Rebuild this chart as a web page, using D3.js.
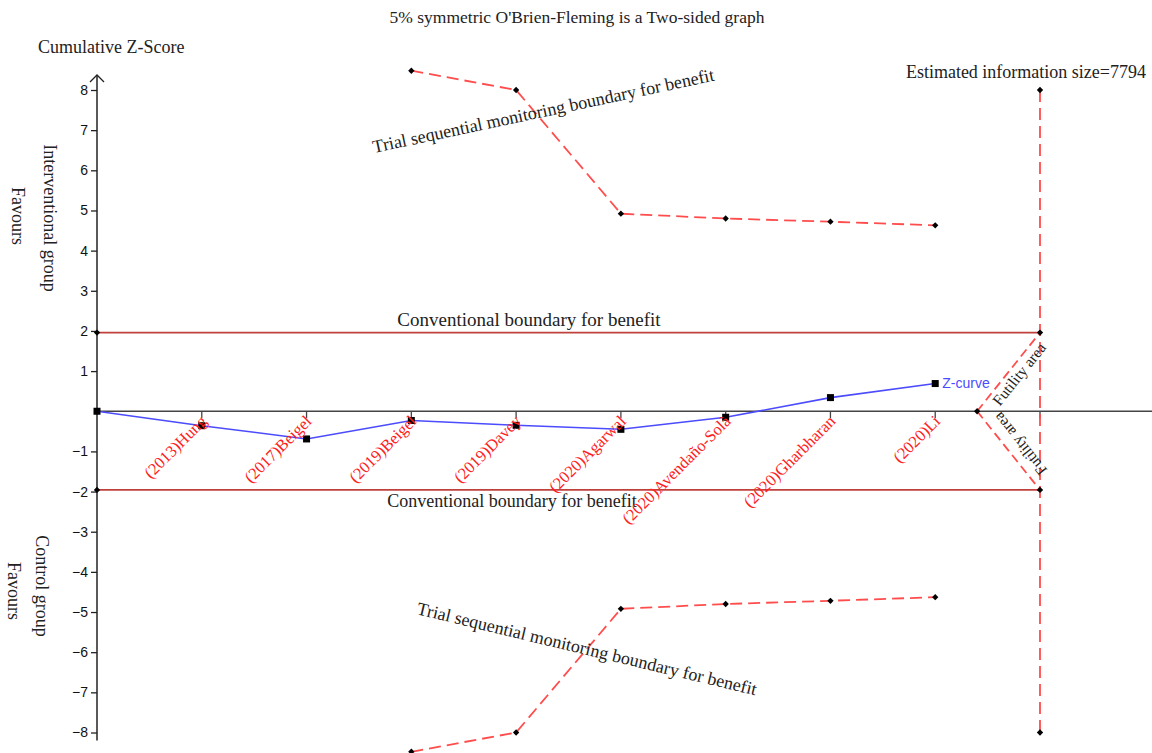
<!DOCTYPE html>
<html>
<head>
<meta charset="utf-8">
<script src="https://cdn.jsdelivr.net/npm/d3@7/dist/d3.min.js"></script>
<style>
  html, body { margin: 0; padding: 0; background: #fff; }
  svg { display: block; }
  .serif { font-family: "Liberation Serif", "Times New Roman", serif; fill: #222; }
</style>
</head>
<body>
<svg id="chart" width="1152" height="753"></svg>
<script>
// Trials in cumulative order (x positions 1..8, 0 is the origin)
const studies = ["(2013)Hung", "(2017)Beigel", "(2019)Beigel", "(2019)Davey",
  "(2020)Agarwal", "(2020)Avendaño-Solà", "(2020)Gharbharan", "(2020)Li"];
const studyPos = [1, 2, 3, 4, 5, 6, 7, 8];

// Cumulative Z-curve, starting at the origin
const zPos = [0, 1, 2, 3, 4, 5, 6, 7, 8];
const zValues = [0, -0.36, -0.69, -0.23, -0.35, -0.45, -0.15, 0.34, 0.69];

// Trial sequential monitoring boundary (O'Brien-Fleming, symmetric)
const tsmbPos = [3, 4, 5, 6, 7, 8];
const tsmbValues = [8.48, 8.0, 4.92, 4.80, 4.72, 4.63];

// Conventional boundary, information size and futility wedge
const conventionalZ = 1.96;
const infoPos = 9;
const infoBoundary = 8;
const futilityStartPos = 8.4;
const infoSizeLabel = "Estimated information size=7794";

const yTicks = [8, 7, 6, 5, 4, 3, 2, 1, -1, -2, -3, -4, -5, -6, -7, -8];

const svg = d3.select("#chart");
const x = d3.scaleLinear().domain([0, 9]).range([97, 1040]);
const y = d3.scaleLinear().domain([-8, 8]).range([732.5, 90]);

const convColor = "#c0403c";
const tsmbColor = "#ff4d4d";
const zColor = "#4b4bff";

// Title and axis captions
svg.append("text").attr("class", "serif").attr("x", 577).attr("y", 23)
  .attr("text-anchor", "middle").style("font-size", "17.5px")
  .text("5% symmetric O'Brien-Fleming is a Two-sided graph");
svg.append("text").attr("class", "serif").attr("x", 38).attr("y", 53)
  .style("font-size", "18px").text("Cumulative Z-Score");
svg.append("text").attr("class", "serif").attr("x", 1146).attr("y", 78)
  .attr("text-anchor", "end").style("font-size", "18px").text(infoSizeLabel);

function vLabel(txt, cx, cy) {
  svg.append("text").attr("class", "serif")
    .attr("transform", `translate(${cx},${cy}) rotate(90)`)
    .attr("text-anchor", "middle").attr("dy", "0.35em")
    .style("font-size", "18px").text(txt);
}
vLabel("Favours", 18, 216);
vLabel("Interventional group", 50, 218);
vLabel("Favours", 14, 591);
vLabel("Control group", 42, 586);

// Conventional boundaries
[conventionalZ, -conventionalZ].forEach(v => {
  svg.append("line").attr("x1", x(0)).attr("x2", x(infoPos))
    .attr("y1", y(v)).attr("y2", y(v))
    .attr("stroke", convColor).attr("stroke-width", 1.8);
});
svg.append("text").attr("class", "serif").attr("x", 529).attr("y", y(conventionalZ) - 7)
  .attr("text-anchor", "middle").style("font-size", "19px").text("Conventional boundary for benefit");
svg.append("text").attr("class", "serif").attr("x", 512).attr("y", y(-conventionalZ) + 17)
  .attr("text-anchor", "middle").style("font-size", "18px").text("Conventional boundary for benefit");

// X axis line and ticks
const x0 = y(0);
svg.append("line").attr("x1", x(0)).attr("x2", 1152).attr("y1", x0).attr("y2", x0)
  .attr("stroke", "#444").attr("stroke-width", 1.5);
studyPos.concat([infoPos]).forEach(p => {
  svg.append("line").attr("x1", x(p)).attr("x2", x(p)).attr("y1", x0).attr("y2", x0 + 7)
    .attr("stroke", "#444").attr("stroke-width", 1.3);
});

// Y axis
const yAxis = d3.axisLeft(y).tickValues(yTicks).tickSize(6).tickFormat(d3.format("d"));
const gy = svg.append("g").attr("transform", `translate(${x(0)},0)`).call(yAxis);
gy.select(".domain").remove();
gy.selectAll("line").attr("stroke", "#222").attr("stroke-width", 1.3);
gy.selectAll("text").style("font-family", "'Liberation Sans', Arial, sans-serif")
  .style("font-size", "14px").attr("fill", "#111").attr("x", -9);
const yTop = y.range()[1] - 15, yBot = y.range()[0] + 8;
svg.append("line").attr("x1", x(0)).attr("x2", x(0)).attr("y1", yTop).attr("y2", yBot)
  .attr("stroke", "#222").attr("stroke-width", 1.5);
svg.append("path").attr("d", `M${x(0) - 7},${yTop + 7}L${x(0)},${yTop}L${x(0) + 7},${yTop + 7}`)
  .attr("fill", "none").attr("stroke", "#222").attr("stroke-width", 1.3);

// Diamond markers helper (square turned 45 degrees)
const diamond = d3.symbol().type(d3.symbolSquare).size(20);
function diamonds(pts) {
  svg.append("g").selectAll("path").data(pts).join("path")
    .attr("d", diamond).attr("fill", "#000")
    .attr("transform", d => `translate(${x(d[0])},${y(d[1])}) rotate(45)`);
}

// Trial sequential monitoring boundaries (upper and lower)
const dashed = "12,6";
const line = d3.line().x(d => x(d[0])).y(d => y(d[1]));
const upper = tsmbPos.map((p, i) => [p, tsmbValues[i]]);
const lower = tsmbPos.map((p, i) => [p, -tsmbValues[i]]);
[upper, lower].forEach(pts => {
  svg.append("path").attr("d", line(pts)).attr("fill", "none")
    .attr("stroke", tsmbColor).attr("stroke-width", 1.8).attr("stroke-dasharray", dashed);
  diamonds(pts);
});

// Estimated information size and futility wedge
svg.append("line").attr("x1", x(infoPos)).attr("x2", x(infoPos))
  .attr("y1", y(infoBoundary)).attr("y2", y(-infoBoundary))
  .attr("stroke", tsmbColor).attr("stroke-width", 1.8).attr("stroke-dasharray", dashed);
[conventionalZ, -conventionalZ].forEach(v => {
  svg.append("path").attr("d", line([[futilityStartPos, 0], [infoPos, v]])).attr("fill", "none")
    .attr("stroke", tsmbColor).attr("stroke-width", 1.8).attr("stroke-dasharray", "9,5");
});
diamonds([[infoPos, infoBoundary], [infoPos, conventionalZ], [infoPos, -conventionalZ],
  [infoPos, -infoBoundary], [futilityStartPos, 0], [0, conventionalZ], [0, -conventionalZ]]);

const angU = Math.atan2(y(conventionalZ) - y(0), x(infoPos) - x(futilityStartPos)) * 180 / Math.PI;
svg.append("text").attr("class", "serif")
  .attr("transform", `translate(1019,374) rotate(${angU})`)
  .attr("text-anchor", "middle").attr("dy", "0.35em").style("font-size", "15.5px").text("Futility area");
svg.append("text").attr("class", "serif")
  .attr("transform", `translate(1020,444) rotate(${180 - angU})`)
  .attr("text-anchor", "middle").attr("dy", "0.35em").style("font-size", "15.5px").text("Futility area");

// Boundary labels
svg.append("text").attr("class", "serif")
  .attr("transform", "translate(374,153) rotate(-12)")
  .style("font-size", "18px").text("Trial sequential monitoring boundary for benefit");
svg.append("text").attr("class", "serif")
  .attr("transform", "translate(416,614) rotate(13.5)")
  .style("font-size", "18px").text("Trial sequential monitoring boundary for benefit");

// Z-curve
const zPts = zPos.map((p, i) => [p, zValues[i]]);
svg.append("path").attr("d", line(zPts)).attr("fill", "none")
  .attr("stroke", zColor).attr("stroke-width", 1.6);
svg.append("g").selectAll("rect").data(zPts).join("rect")
  .attr("x", d => x(d[0]) - 3.5).attr("y", d => y(d[1]) - 3.5)
  .attr("width", 7).attr("height", 7).attr("fill", "#000");
const last = zPts[zPts.length - 1];
svg.append("text").attr("x", x(last[0]) + 7).attr("y", y(last[1])).attr("dy", "0.35em")
  .style("font-family", "'Liberation Sans', Arial, sans-serif").style("font-size", "14px")
  .attr("fill", zColor).text("Z-curve");

// Trial labels along the x axis
svg.append("g").selectAll("text").data(studies).join("text")
  .attr("class", "serif")
  .attr("transform", (d, i) => `translate(${x(studyPos[i]) + 6},${x0 + 11}) rotate(-45)`)
  .attr("text-anchor", "end").style("font-size", "16.5px").style("fill", "#ff2020")
  .text(d => d);
</script>
</body>
</html>
